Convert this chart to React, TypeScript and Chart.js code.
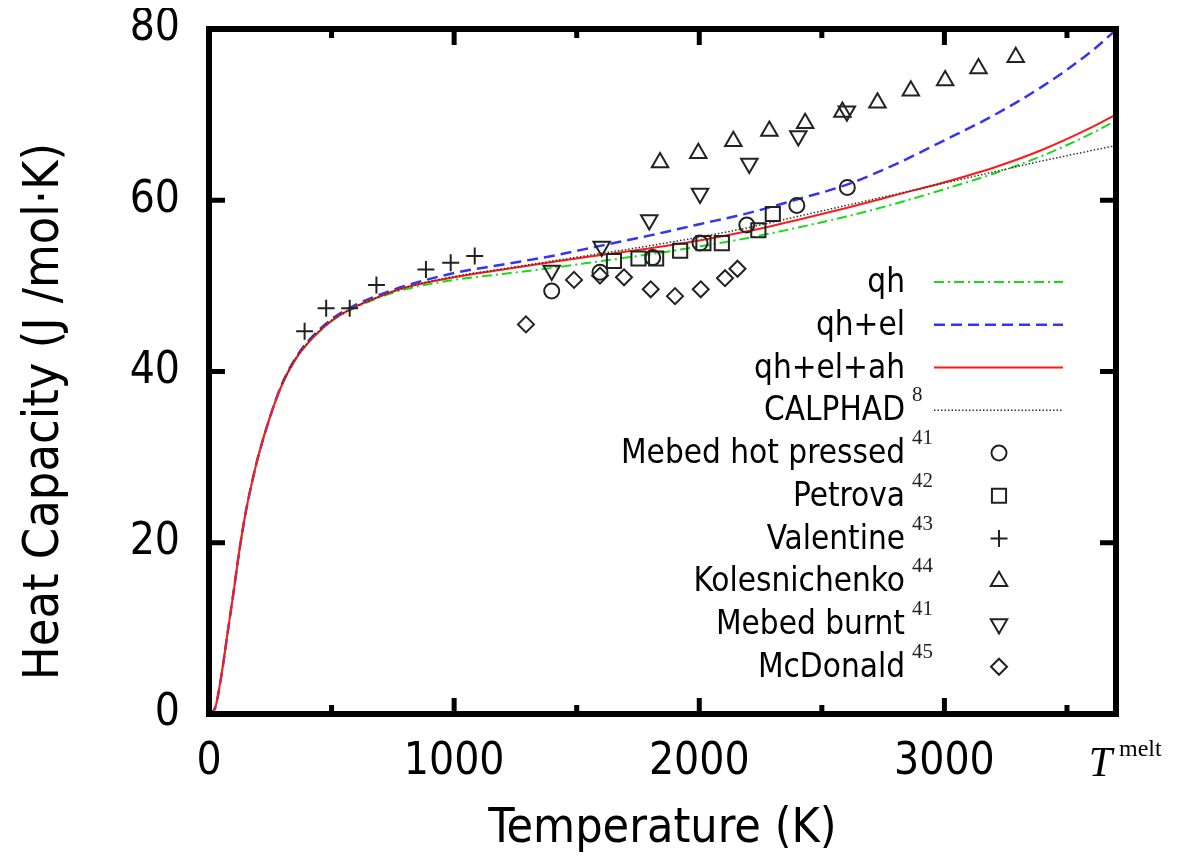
import React, { useEffect, useRef } from "react";
import { Chart, registerables } from "chart.js";

Chart.register(...registerables);

const FONT = "'DejaVu Sans Condensed', 'DejaVu Sans', sans-serif";
const SERIF = "'Liberation Serif', 'DejaVu Serif', serif";

// ---- model curves (temperature grid, heat capacity) ----
const tGrid = [0, 25, 50, 75, 100, 125, 150, 175, 200, 250, 300, 350, 400, 500, 600, 700, 800, 1000, 1200, 1400, 1600, 1800, 2000, 2200, 2400, 2600, 2800, 3000, 3200, 3400, 3600, 3700];
const cpQh = [0, 0.7, 4.4, 9.3, 14.2, 19.3, 23.6, 27.0, 30.0, 34.8, 38.6, 41.3, 43.2, 45.9, 47.5, 48.7, 49.6, 50.7, 51.4, 52.1, 52.9, 53.7, 54.6, 55.6, 56.8, 58.1, 59.6, 61.3, 63.1, 65.2, 67.8, 69.3];
const cpQhEl = [0, 0.7, 4.4, 9.3, 14.2, 19.3, 23.6, 27.0, 30.0, 34.8, 38.7, 41.4, 43.4, 46.1, 47.8, 49.0, 50.0, 51.5, 52.5, 53.5, 54.7, 55.9, 57.2, 58.5, 60.1, 61.8, 64.2, 67.0, 69.9, 73.3, 77.4, 79.9];
const cpQhElAh = [0, 0.7, 4.4, 9.3, 14.2, 19.3, 23.6, 27.0, 30.0, 34.8, 38.6, 41.3, 43.2, 45.9, 47.6, 48.8, 49.8, 51.0, 51.9, 52.8, 53.6, 54.4, 55.3, 56.4, 57.7, 59.1, 60.6, 62.1, 63.8, 65.9, 68.5, 70.0];
const tCalphad = [298, 350, 400, 500, 600, 700, 800, 1000, 1200, 1400, 1600, 1800, 2000, 2200, 2400, 2600, 2800, 3000, 3200, 3400, 3600, 3700];
const cpCalphad = [38.6, 41.4, 43.3, 46.0, 47.6, 48.8, 49.8, 51.1, 52.0, 52.9, 53.8, 54.7, 55.7, 56.8, 58.1, 59.4, 60.7, 62.0, 63.3, 64.6, 65.8, 66.4];

// ---- experimental data ----
const tMebedHot = [1398, 1595, 1810, 2003, 2194, 2398, 2604];
const cpMebedHot = [49.4, 51.6, 53.3, 55.0, 57.1, 59.4, 61.5];
const tPetrova = [1652, 1752, 1824, 1922, 2017, 2092, 2241, 2300];
const cpPetrova = [52.9, 53.2, 53.2, 54.1, 55.0, 55.0, 56.5, 58.4];
const tValentine = [390, 478, 574, 683, 885, 986, 1084];
const cpValentine = [44.7, 47.4, 47.4, 50.1, 51.9, 52.7, 53.5];
const tKoles = [1840, 1996, 2139, 2286, 2432, 2584, 2727, 2863, 3003, 3139, 3291];
const cpKoles = [64.4, 65.5, 66.9, 68.1, 69.0, 70.3, 71.4, 72.8, 74.0, 75.4, 76.7];
const tMebedBurnt = [1398, 1602, 1796, 2003, 2204, 2404, 2602];
const cpMebedBurnt = [51.8, 54.6, 57.7, 60.8, 64.3, 67.5, 70.4];
const tMcDonald = [1293, 1489, 1595, 1693, 1802, 1901, 2006, 2105, 2156];
const cpMcDonald = [45.5, 50.7, 51.2, 51.0, 49.6, 48.8, 49.6, 50.9, 52.0];

// ---- axes / labels ----
const xTickValues = [0, 1000, 2000, 3000];
const xMinorTicks = [500, 1500, 2500, 3500];
const yTickValues = [0, 20, 40, 60, 80];
const T_MELT = 3700;
const xTitle = "Temperature (K)";
const yTitle = "Heat Capacity (J /mol·K)";
const seriesLabels = ["qh", "qh+el", "qh+el+ah", "CALPHAD", "Mebed hot pressed", "Petrova", "Valentine", "Kolesnichenko", "Mebed burnt", "McDonald"];
const seriesRefs = ["", "", "", "8", "41", "42", "43", "44", "41", "45"];

const pts = (xs: number[], ys: number[]) => xs.map((x, i) => ({ x, y: ys[i] }));

const MARK = "#222";
const N = seriesLabels.length;

const lineDs = (i: number, xs: number[], ys: number[], color: string, width: number, dash: number[]) => ({
  label: seriesLabels[i],
  data: pts(xs, ys),
  showLine: true,
  pointRadius: 0,
  borderColor: color,
  backgroundColor: color,
  borderWidth: width,
  borderDash: dash,
  cubicInterpolationMode: "monotone",
  fill: false,
  order: N - i,
});

const pointDs = (i: number, xs: number[], ys: number[], style: string, radius: number, rotation = 0) => ({
  label: seriesLabels[i],
  data: pts(xs, ys),
  showLine: false,
  pointStyle: style,
  pointRadius: radius,
  pointRotation: rotation,
  pointBorderColor: MARK,
  pointBackgroundColor: "rgba(0,0,0,0)",
  pointBorderWidth: 2,
  borderColor: MARK,
  backgroundColor: "rgba(0,0,0,0)",
  order: N - i,
});

function drawMarker(ctx: CanvasRenderingContext2D, style: string, x: number, y: number, r: number, rot: number) {
  ctx.beginPath();
  if (style === "circle") {
    ctx.arc(x, y, r, 0, Math.PI * 2);
  } else if (style === "rect") {
    const h = r * Math.SQRT1_2;
    ctx.rect(x - h, y - h, 2 * h, 2 * h);
  } else if (style === "cross") {
    ctx.moveTo(x - r, y);
    ctx.lineTo(x + r, y);
    ctx.moveTo(x, y - r);
    ctx.lineTo(x, y + r);
  } else if (style === "triangle") {
    let a = (rot * Math.PI) / 180;
    ctx.moveTo(x + Math.sin(a) * r, y - Math.cos(a) * r);
    a += (2 * Math.PI) / 3;
    ctx.lineTo(x + Math.sin(a) * r, y - Math.cos(a) * r);
    a += (2 * Math.PI) / 3;
    ctx.lineTo(x + Math.sin(a) * r, y - Math.cos(a) * r);
    ctx.closePath();
  } else if (style === "rectRot") {
    ctx.moveTo(x - r, y);
    ctx.lineTo(x, y - r);
    ctx.lineTo(x + r, y);
    ctx.lineTo(x, y + r);
    ctx.closePath();
  }
  ctx.stroke();
}

const framePlugin = {
  id: "gnuFrame",
  afterDatasetsDraw(chart: any) {
    const { ctx, chartArea: a, scales } = chart;
    const xs = scales.x;
    const ys = scales.y;
    ctx.save();
    ctx.strokeStyle = "#000";
    ctx.lineCap = "butt";
    ctx.lineWidth = 5;
    ctx.beginPath();
    for (const v of xTickValues) {
      const p = xs.getPixelForValue(v);
      ctx.moveTo(p, a.bottom);
      ctx.lineTo(p, a.bottom - 16);
      ctx.moveTo(p, a.top);
      ctx.lineTo(p, a.top + 16);
    }
    for (const v of xMinorTicks) {
      const p = xs.getPixelForValue(v);
      ctx.moveTo(p, a.bottom);
      ctx.lineTo(p, a.bottom - 9);
      ctx.moveTo(p, a.top);
      ctx.lineTo(p, a.top + 9);
    }
    for (const v of yTickValues) {
      const p = ys.getPixelForValue(v);
      ctx.moveTo(a.left, p);
      ctx.lineTo(a.left + 16, p);
      ctx.moveTo(a.right, p);
      ctx.lineTo(a.right - 16, p);
    }
    ctx.stroke();
    ctx.lineWidth = 6;
    ctx.strokeRect(a.left, a.top, a.right - a.left, a.bottom - a.top);

    // T^melt label at the melting-point tick
    const pm = xs.getPixelForValue(T_MELT);
    ctx.fillStyle = "#000";
    ctx.textBaseline = "alphabetic";
    ctx.textAlign = "right";
    ctx.font = `italic 42px ${SERIF}`;
    ctx.fillText("T", pm - 4, a.bottom + 62);
    ctx.textAlign = "left";
    ctx.font = `24px ${SERIF}`;
    ctx.fillText("melt", pm + 3, a.bottom + 42);

    // y axis title
    ctx.save();
    ctx.translate(50, (a.top + a.bottom) / 2 + 40);
    ctx.rotate(-Math.PI / 2);
    ctx.textAlign = "center";
    ctx.textBaseline = "alphabetic";
    ctx.font = `50px ${FONT}`;
    ctx.fillText(yTitle, 0, 0);
    ctx.restore();
    ctx.restore();
  },
  afterDraw(chart: any) {
    const { ctx } = chart;
    const textRight = 897;
    const sampleL = 926;
    const sampleR = 1055;
    const markX = 991;
    const row0 = 274;
    const step = 42.75;
    ctx.save();
    chart.data.datasets.forEach((ds: any, i: number) => {
      const y = row0 + i * step;
      ctx.fillStyle = "#000";
      ctx.textAlign = "right";
      ctx.textBaseline = "alphabetic";
      ctx.font = `33px ${FONT}`;
      ctx.fillText(ds.label, textRight, y + 10);
      if (seriesRefs[i]) {
        ctx.textAlign = "left";
        ctx.font = `21px ${SERIF}`;
        ctx.fillStyle = "#222";
        ctx.fillText(seriesRefs[i], textRight + 7, y - 9);
      }
      if (ds.showLine) {
        ctx.strokeStyle = ds.borderColor;
        ctx.lineWidth = ds.borderWidth;
        ctx.setLineDash(ds.borderDash || []);
        ctx.beginPath();
        ctx.moveTo(sampleL, y);
        ctx.lineTo(sampleR, y);
        ctx.stroke();
        ctx.setLineDash([]);
      } else {
        ctx.strokeStyle = MARK;
        ctx.lineWidth = 2;
        drawMarker(ctx, ds.pointStyle, markX, y, ds.pointRadius, ds.pointRotation || 0);
      }
    });
    ctx.restore();
  },
};

export default function App() {
  const ref = useRef<HTMLCanvasElement>(null);
  useEffect(() => {
    const datasets: any[] = [
      lineDs(0, tGrid, cpQh, "#18dc18", 2, [10, 4, 2, 4]),
      lineDs(1, tGrid, cpQhEl, "#3434f4", 2.5, [11, 6]),
      lineDs(2, tGrid, cpQhElAh, "#ff1a1a", 2, []),
      lineDs(3, tCalphad, cpCalphad, "#333333", 1.5, [1.5, 2]),
      pointDs(4, tMebedHot, cpMebedHot, "circle", 7.5),
      pointDs(5, tPetrova, cpPetrova, "rect", 10),
      pointDs(6, tValentine, cpValentine, "cross", 8.5),
      pointDs(7, tKoles, cpKoles, "triangle", 9.5),
      pointDs(8, tMebedBurnt, cpMebedBurnt, "triangle", 9.5, 180),
      pointDs(9, tMcDonald, cpMcDonald, "rectRot", 8),
    ];
    const chart = new Chart(ref.current as HTMLCanvasElement, {
      type: "scatter",
      data: { datasets },
      options: {
        animation: false,
        responsive: false,
        devicePixelRatio: 1,
        events: [],
        layout: { padding: { top: 21, right: 71, left: 0, bottom: 0 } },
        plugins: { legend: { display: false }, tooltip: { enabled: false }, title: { display: false } },
        scales: {
          x: {
            type: "linear",
            min: 0,
            max: T_MELT,
            afterBuildTicks: (s: any) => {
              s.ticks = xTickValues.map((v) => ({ value: v }));
            },
            afterFit: (s: any) => {
              s.height = 138;
              s.paddingLeft = 0;
              s.paddingRight = 0;
            },
            ticks: {
              color: "#000",
              font: { family: FONT, size: 44, lineHeight: 1.2 },
              padding: 22,
              maxRotation: 0,
              autoSkip: false,
              callback: (v: any) => String(v),
            },
            grid: { display: false, drawTicks: false },
            border: { display: false },
            title: {
              display: true,
              text: xTitle,
              color: "#000",
              font: { family: FONT, size: 48, lineHeight: 0.95 },
              padding: { top: 0, bottom: 0 },
            },
          },
          y: {
            type: "linear",
            min: 0,
            max: 80,
            afterBuildTicks: (s: any) => {
              s.ticks = yTickValues.map((v) => ({ value: v }));
            },
            afterFit: (s: any) => {
              s.width = 201;
              s.paddingTop = 0;
              s.paddingBottom = 0;
            },
            ticks: {
              color: "#000",
              font: { family: FONT, size: 44, lineHeight: 1.2 },
              padding: 29,
              callback: (v: any) => String(v),
            },
            grid: { display: false, drawTicks: false },
            border: { display: false },
          },
        },
      },
      plugins: [framePlugin],
    } as any);
    return () => chart.destroy();
  }, []);
  return (
    <div style={{ width: 1179, height: 844 }}>
      <canvas ref={ref} width={1179} height={844} style={{ display: "block", width: 1179, height: 844 }} />
    </div>
  );
}
